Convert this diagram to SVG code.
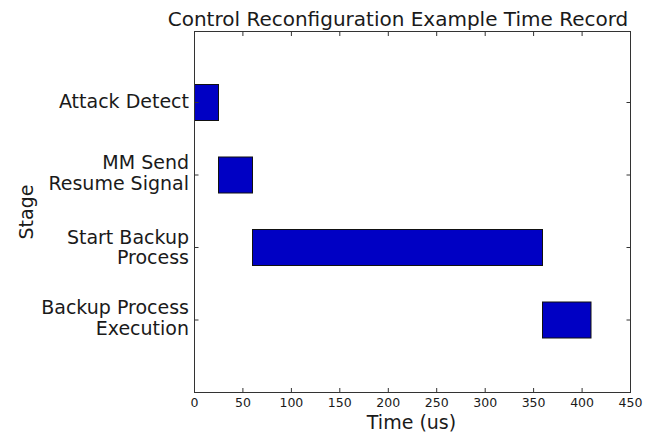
<svg xmlns="http://www.w3.org/2000/svg" width="672" height="437" viewBox="0 0 672 437">
<style>
text{font-family:"DejaVu Sans","Liberation Sans",sans-serif;fill:#1a1a1a}
.yl{font-size:19px;text-anchor:end}
.xt{font-size:12.5px;text-anchor:middle}
.bar{fill:#0000c4;stroke:#111;stroke-width:1}
.tick{stroke:#333;stroke-width:1}
</style>
<rect width="672" height="437" fill="#fff"/>
<text x="398" y="26" style="font-size:20px" text-anchor="middle">Control Reconfiguration Example Time Record</text>
<g id="bars">
<rect id="attack-detect" class="bar" x="194.5" y="84.5" width="24" height="36"/>
<rect id="mm-send" class="bar" x="218.5" y="157" width="34" height="36"/>
<rect id="start-backup" class="bar" x="252.5" y="229.5" width="290" height="36"/>
<rect id="backup-exec" class="bar" x="542.5" y="302" width="48.5" height="36"/>
</g>
<rect x="194.5" y="31.5" width="436" height="361" fill="none" stroke="#333" stroke-width="1"/>
<g id="ticks" class="tick">
<path d="M242.9 392v-4M291.4 392v-4M339.8 392v-4M388.3 392v-4M436.7 392v-4M485.2 392v-4M533.6 392v-4M582.1 392v-4
M242.9 32v4M291.4 32v4M339.8 32v4M388.3 32v4M436.7 32v4M485.2 32v4M533.6 32v4M582.1 32v4
M194.5 102.5h4M194.5 175h4M194.5 247.5h4M194.5 320h4
M630.5 102.5h-4M630.5 175h-4M630.5 247.5h-4M630.5 320h-4"/>
</g>
<g id="xticklabels">
<text class="xt" x="194.5" y="407">0</text>
<text class="xt" x="242.9" y="407">50</text>
<text class="xt" x="291.4" y="407">100</text>
<text class="xt" x="339.8" y="407">150</text>
<text class="xt" x="388.3" y="407">200</text>
<text class="xt" x="436.7" y="407">250</text>
<text class="xt" x="485.2" y="407">300</text>
<text class="xt" x="533.6" y="407">350</text>
<text class="xt" x="582.1" y="407">400</text>
<text class="xt" x="630.5" y="407">450</text>
</g>
<g id="yticklabels">
<text class="yl" x="189" y="107.5">Attack Detect</text>
<text class="yl" x="189" y="169">MM Send</text>
<text class="yl" x="189" y="189.5">Resume Signal</text>
<text class="yl" x="189" y="243.5">Start Backup</text>
<text class="yl" x="189" y="263.5">Process</text>
<text class="yl" x="189" y="314">Backup Process</text>
<text class="yl" x="189" y="334.5">Execution</text>
</g>
<text x="411.5" y="429" style="font-size:19px" text-anchor="middle">Time (us)</text>
<text transform="translate(33 212) rotate(-90)" style="font-size:19px" text-anchor="middle">Stage</text>
</svg>
